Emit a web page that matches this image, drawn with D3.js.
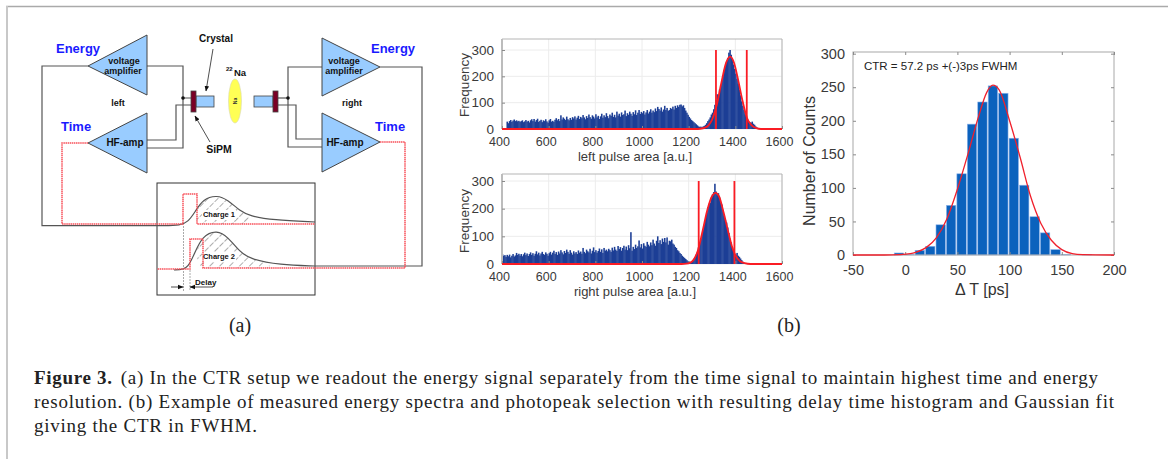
<!DOCTYPE html>
<html>
<head>
<meta charset="utf-8">
<script src="https://cdnjs.cloudflare.com/ajax/libs/d3/7.8.5/d3.min.js"></script>
<style>
html, body { margin: 0; padding: 0; background: #fff; overflow: hidden; }
text { font-family: "Liberation Sans", sans-serif; }
.axis path { display: none; }
.axis line { stroke: #8a8a8a; }
.axis text { font-size: 13px; fill: #3a3a3a; font-family: "Liberation Sans", sans-serif; }
</style>
</head>
<body>
<svg id="fig" width="1168" height="459"></svg>
<script>
// left spectrum, 5 unit bins starting at 415
var leftStart = 415;
var leftCounts = [
	0, 28, 22, 30, 34, 27, 32, 36, 30, 33, 29, 31, 27, 30, 33, 26, 29, 34, 28, 31,
	25, 33, 37, 30, 38, 28, 34, 39, 27, 31, 35, 26, 33, 30, 37, 29, 24, 33, 38, 28,
	31, 27, 35, 41, 33, 38, 30, 52, 36, 44, 39, 34, 47, 37, 33, 42, 35, 45, 40, 48,
	36, 43, 50, 38, 46, 41, 53, 44, 37, 49, 42, 55, 45, 39, 52, 47, 40, 56, 44, 50,
	38, 48, 58, 43, 52, 45, 60, 49, 41, 55, 50, 62, 46, 54, 44, 66, 51, 58, 47, 63,
	53, 56, 70, 49, 60, 54, 66, 58, 50, 64, 56, 71, 53, 62, 72, 57, 65, 60, 68, 55,
	63, 72, 59, 66, 75, 62, 70, 64, 78, 68, 84, 76, 70, 82, 66, 74, 88, 72, 80, 69,
	72, 80, 76, 85, 74, 88, 80, 90, 84, 92, 93, 86, 90, 80, 70, 62, 54, 46, 40, 34,
	30, 26, 22, 18, 14, 10, 8, 9, 7, 10, 12, 16, 22, 30, 36, 44, 55, 62, 75, 92,
	110, 132, 128, 150, 165, 185, 205, 225, 238, 255, 270, 290, 300, 282, 262, 245, 228, 210, 190, 172,
	150, 128, 105, 88, 72, 55, 42, 35, 28, 26, 24, 28, 20, 16, 10, 6, 4, 3, 2, 2, 2
];
var leftFitX = [400, 1230, 1250, 1270, 1285, 1300, 1320, 1340, 1360, 1378, 1395, 1410, 1430, 1450, 1470, 1490, 1510, 1600];
var leftFitY = [0, 0, 1, 5, 14, 35, 90, 175, 250, 275, 250, 195, 110, 42, 14, 3, 0, 0];
var leftCuts = [1317, 1449];

// right spectrum, 5 unit bins starting at 400
var rightStart = 400;
var rightCounts = [
	35, 30, 32, 26, 33, 28, 34, 24, 30, 36, 27, 31, 40, 33, 37, 30, 36, 28, 35, 41,
	32, 38, 29, 36, 42, 33, 39, 30, 37, 46, 35, 41, 31, 38, 44, 36, 33, 42, 37, 30,
	39, 44, 34, 41, 48, 36, 43, 33, 45, 38, 50, 42, 35, 47, 40, 52, 44, 37, 50, 41,
	34, 46, 38, 43, 36, 49, 41, 45, 37, 58, 44, 39, 52, 46, 42, 55, 38, 48, 60, 43,
	50, 41, 47, 56, 44, 53, 40, 58, 48, 52, 46, 55, 50, 44, 59, 49, 62, 52, 47, 65,
	54, 61, 48, 58, 66, 52, 63, 50, 68, 57, 115, 48, 62, 54, 70, 58, 64, 85, 60, 72,
	56, 75, 66, 62, 80, 70, 64, 78, 68, 88, 74, 66, 84, 100, 76, 86, 72, 92, 80, 94,
	78, 96, 70, 84, 82, 88, 74, 70, 62, 58, 50, 46, 40, 36, 30, 26, 22, 18, 14, 10,
	8, 7, 9, 12, 18, 24, 34, 44, 60, 78, 92, 108, 125, 142, 160, 185, 205, 218, 222, 240,
	252, 260, 290, 262, 250, 256, 240, 222, 215, 196, 175, 158, 150, 132, 112, 92, 78, 60, 46, 36,
	34, 40, 30, 26, 20, 14, 8, 5, 3, 2, 1
];
var rightFitX = [400, 1170, 1190, 1205, 1220, 1240, 1260, 1280, 1300, 1315, 1330, 1350, 1370, 1385, 1400, 1420, 1440, 1465, 1600];
var rightFitY = [0, 0, 1, 4, 14, 50, 120, 195, 245, 257, 245, 185, 115, 65, 32, 10, 3, 0, 0];
var rightCuts = [1243, 1396];

var spectrumXTicks = [400, 600, 800, 1000, 1200, 1400, 1600];
var spectrumYTicks = [0, 100, 200, 300];

// delay time histogram
var ctrCenters = [-6, 4, 14, 24, 34, 44, 54, 64, 74, 84, 94, 104, 114, 124, 134, 144, 154, 174];
var ctrCounts = [3, 1, 7, 13, 45, 74, 121, 195, 228, 252, 241, 174, 104, 57, 33, 8, 1, 1];
var ctrFitX = [-50, -20, -5, 5, 10, 20, 30, 40, 50, 60, 70, 78, 84, 90, 100, 110, 120, 130, 140, 150, 160, 170, 200];
var ctrFitY = [0, 0, 0.5, 2, 4, 11, 26, 54, 98, 150, 205, 242, 253, 246, 200, 146, 88, 47, 22, 8, 2, 0.5, 0];
var ctrXTicks = [-50, 0, 50, 100, 150, 200];
var ctrYTicks = [0, 50, 100, 150, 200, 250, 300];

var caption1 = "(a) In the CTR setup we readout the energy signal separately from the time signal to maintain highest time and energy";
var caption2 = "resolution. (b) Example of measured energy spectra and photopeak selection with resulting delay time histogram and Gaussian fit";
var caption3 = "giving the CTR in FWHM.";

var svg = d3.select("#fig");

// page frame
svg.append("line").attr("x1", 6).attr("x2", 1168).attr("y1", 6.5).attr("y2", 6.5).attr("stroke", "#aaa").attr("stroke-width", 1.5);
svg.append("line").attr("x1", 7).attr("x2", 7).attr("y1", 6).attr("y2", 459).attr("stroke", "#c8c8c8").attr("stroke-width", 2);

// ---- spectra ----
function spectrum(top, bottom, zeroY, y300, start, counts, fitX, fitY, cuts, xlabel, xlabelY, tickY, freqY) {
	var x = d3.scaleLinear().domain([400, 1600]).range([502, 782]);
	var y = d3.scaleLinear().domain([0, 300]).range([zeroY, y300]);
	var g = svg.append("g");

	// gridlines
	g.selectAll(".gx").data(spectrumXTicks).enter().append("line")
		.attr("x1", x).attr("x2", x).attr("y1", top).attr("y2", bottom)
		.attr("stroke", "#ececec");
	g.selectAll(".gy").data(spectrumYTicks).enter().append("line")
		.attr("x1", 502).attr("x2", 782).attr("y1", y).attr("y2", y)
		.attr("stroke", "#ececec");

	// bars, a touch wider than the bin so they read as a solid area
	var bw = x(405) - x(400);
	g.selectAll(".bar").data(counts).enter().append("rect")
		.attr("x", function(d, i) { return x(start + i * 5) - 0.2; })
		.attr("y", function(d) { return y(d); })
		.attr("width", bw + 0.4)
		.attr("height", function(d) { return zeroY - y(d); })
		.attr("fill", "#1d3f96");

	// box
	g.append("line").attr("x1", 502).attr("x2", 782).attr("y1", top).attr("y2", top).attr("stroke", "#b5b5b5");
	g.append("line").attr("x1", 782).attr("x2", 782).attr("y1", top).attr("y2", bottom).attr("stroke", "#b5b5b5");
	g.append("line").attr("x1", 502).attr("x2", 502).attr("y1", top).attr("y2", bottom).attr("stroke", "#bcbcbc").attr("stroke-width", 2);

	var xAxis = d3.axisBottom(x).tickValues(spectrumXTicks).tickSize(-3).tickPadding(6).tickFormat(d3.format("d"));
	var yAxis = d3.axisLeft(y).tickValues(spectrumYTicks).tickSize(-3).tickPadding(8);
	var ax = g.append("g").attr("class", "axis").attr("transform", "translate(0," + bottom + ")").call(xAxis);
	ax.selectAll("text").attr("y", null).attr("dy", null).attr("dx", -3)
		.attr("transform", "translate(0," + (tickY - bottom) + ")").style("font-size", "12.5px");
	g.append("g").attr("class", "axis").attr("transform", "translate(502,0)").call(yAxis)
		.selectAll("text").style("font-size", "13.5px");

	// fit and cuts
	var line = d3.line().x(function(d) { return x(d[0]); }).y(function(d) { return y(d[1]); }).curve(d3.curveMonotoneX);
	g.append("path").attr("d", line(d3.zip(fitX, fitY))).attr("fill", "none").attr("stroke", "#fa1c24").attr("stroke-width", 1.8);
	g.selectAll(".cut").data(cuts).enter().append("line")
		.attr("x1", x).attr("x2", x).attr("y1", zeroY).attr("y2", y(300))
		.attr("stroke", "#fa1c24").attr("stroke-width", 1.8);

	g.append("text").attr("x", 635).attr("y", xlabelY).attr("text-anchor", "middle")
		.style("font-size", "13px").attr("fill", "#3a3a3a").text(xlabel);
	g.append("text").attr("transform", "translate(469," + freqY + ") rotate(-90)")
		.attr("text-anchor", "middle").style("font-size", "13.5px").attr("fill", "#3a3a3a").text("Frequency");
}
spectrum(39, 129, 129, 50, leftStart, leftCounts, leftFitX, leftFitY, leftCuts, "left pulse area [a.u.]", 161, 146, 85);
spectrum(174, 264, 264, 181, rightStart, rightCounts, rightFitX, rightFitY, rightCuts, "right pulse area [a.u.]", 296, 281, 221);

// ---- CTR histogram ----
var ctrX = d3.scaleLinear().domain([-50, 200]).range([853, 1114]);
var ctrY = d3.scaleLinear().domain([0, 302.5]).range([255, 52]);
var ctr = svg.append("g");
ctr.selectAll(".bar").data(ctrCounts).enter().append("rect")
	.attr("x", function(d, i) { return ctrX(ctrCenters[i] - 4.5); })
	.attr("y", function(d) { return ctrY(d); })
	.attr("width", ctrX(9) - ctrX(0))
	.attr("height", function(d) { return 255 - ctrY(d); })
	.attr("fill", "#0b62bd")
	.attr("stroke", "#8fb4ea").attr("stroke-width", 0.6);
ctr.append("rect").attr("x", 853).attr("y", 52).attr("width", 261).attr("height", 203)
	.attr("fill", "none").attr("stroke", "#a8a8a8");
// plain hyphen on the negative tick, like the original
var ctrXAxis = d3.axisBottom(ctrX).tickValues(ctrXTicks).tickSize(-3).tickPadding(10).tickFormat(function(d) { return String(d); });
var ctrYAxis = d3.axisLeft(ctrY).tickValues(ctrYTicks).tickSize(-3).tickPadding(8);
ctr.append("g").attr("class", "axis").attr("transform", "translate(0,255)").call(ctrXAxis)
	.selectAll("text").style("font-size", "14.5px");
ctr.append("g").attr("class", "axis").attr("transform", "translate(853,0)").call(ctrYAxis)
	.selectAll("text").style("font-size", "14.5px");
// ticks on the top and right too
ctr.append("g").attr("class", "axis").attr("transform", "translate(0,52)")
	.call(d3.axisTop(ctrX).tickValues(ctrXTicks).tickSize(-3).tickFormat(""));
ctr.append("g").attr("class", "axis").attr("transform", "translate(1114,0)")
	.call(d3.axisRight(ctrY).tickValues(ctrYTicks).tickSize(-3).tickFormat(""));
var ctrLine = d3.line().x(function(d) { return ctrX(d[0]); }).y(function(d) { return ctrY(d[1]); }).curve(d3.curveMonotoneX);
ctr.append("path").attr("d", ctrLine(d3.zip(ctrFitX, ctrFitY))).attr("fill", "none").attr("stroke", "#f0202c").attr("stroke-width", 1.3);
ctr.append("text").attr("x", 864).attr("y", 70).style("font-size", "11.5px").attr("fill", "#222").text("CTR = 57.2 ps +(-)3ps FWHM");
ctr.append("text").attr("transform", "translate(815,161) rotate(-90)").attr("text-anchor", "middle")
	.style("font-size", "16px").attr("fill", "#333").text("Number of Counts");
ctr.append("text").attr("x", 982).attr("y", 295).attr("text-anchor", "middle")
	.style("font-size", "16px").attr("fill", "#333").text("\u0394 T [ps]");

// ---- setup schematic ----
var dia = svg.append("g");
var defs = svg.append("defs");
var wire = "#555", blue = "#99ccff", red = "#f8505a";
defs.append("marker").attr("id", "arrow").attr("viewBox", "0 0 10 10").attr("refX", 9).attr("refY", 5)
	.attr("markerWidth", 7).attr("markerHeight", 7).attr("orient", "auto-start-reverse")
	.append("path").attr("d", "M0,1 L10,5 L0,9 Z").attr("fill", "#111");
var hatch = defs.append("pattern").attr("id", "hatch").attr("patternUnits", "userSpaceOnUse")
	.attr("width", 7).attr("height", 7).attr("patternTransform", "rotate(45)");
hatch.append("line").attr("x1", 0).attr("x2", 0).attr("y1", 0).attr("y2", 7).attr("stroke", "#777").attr("stroke-width", 1.2).attr("stroke-dasharray", "5 1.5");

var pts = d3.line();
var smooth = d3.line().curve(d3.curveBasis);
function poly(p, color, w, dash) {
	return dia.append("path").attr("d", pts(p)).attr("fill", "none").attr("stroke", color)
		.attr("stroke-width", w).attr("stroke-dasharray", dash || null);
}
function label(x, y, s, size, anchor, color) {
	return dia.append("text").attr("x", x).attr("y", y).attr("text-anchor", anchor || "middle")
		.style("font-size", size + "px").style("font-weight", "bold").attr("fill", color || "#111").text(s);
}

// pulse box
dia.append("rect").attr("x", 157).attr("y", 183).attr("width", 158).attr("height", 112)
	.attr("fill", "#fff").attr("stroke", "#333").attr("stroke-width", 1);

// hatched charge areas
var pulse1 = [[140, 225.7], [165, 225.7], [180, 225.5], [188, 222], [195, 212], [203, 199], [217, 195], [228, 200], [240, 211], [250, 216], [273, 220], [315, 222]];
var pulse2 = [[174, 270], [183, 269.5], [188, 267], [194, 255], [202, 236], [217, 230], [228, 237], [240, 252], [250, 259], [280, 265], [315, 266]];
var charge1 = pulse1.filter(function(d) { return d[0] >= 195 && d[0] <= 250; });
var charge2 = pulse2.filter(function(d) { return d[0] >= 194 && d[0] <= 265; });
dia.append("path").attr("d", smooth([[197, 224]].concat(charge1, [[250, 224]])) + "Z").attr("fill", "url(#hatch)");
dia.append("path").attr("d", smooth([[202, 268]].concat(charge2, [[270, 264], [270, 268]])) + "Z").attr("fill", "url(#hatch)");
dia.append("rect").attr("x", 202).attr("y", 210).attr("width", 34).attr("height", 10).attr("fill", "#fff");
dia.append("rect").attr("x", 202).attr("y", 252).attr("width", 34).attr("height", 10).attr("fill", "#fff");

// delay guide lines
poly([[183.5, 226], [183.5, 291]], "#aaa", 1, "2 1");
poly([[190, 270], [190, 291]], "#aaa", 1, "2 1");

// energy wires
poly([[88, 66], [42, 66], [42, 225.7], [140, 225.7]], wire, 1.2);
poly([[315, 266], [422, 266], [422, 67], [380, 67]], wire, 1.2);
dia.append("path").attr("d", smooth(pulse1)).attr("fill", "none").attr("stroke", wire).attr("stroke-width", 1.2);
dia.append("path").attr("d", smooth(pulse2)).attr("fill", "none").attr("stroke", wire).attr("stroke-width", 1.2);

// time signals
poly([[88, 143], [62, 143], [62, 224], [183, 224], [183, 194], [197, 194], [197, 224], [315, 224]], red, 1.5, "1.5 0.6");
poly([[380, 142], [405, 142], [405, 268], [203, 268], [203, 239], [190, 239], [190, 269], [157, 269]], red, 1.5, "1.5 0.6");

// inner wiring
poly([[147, 66], [183, 66], [183, 98], [191, 98]], wire, 1.2);
poly([[147, 148], [183, 148], [183, 98]], wire, 1.2);
poly([[147, 140], [176, 140], [176, 105], [191, 105]], wire, 1.2);
poly([[322, 67], [288, 67], [288, 147], [322, 147]], wire, 1.2);
poly([[278, 98], [288, 98]], wire, 1.2);
poly([[278, 105], [296, 105], [296, 139], [322, 139]], wire, 1.2);

// amplifiers
function amp(p) {
	dia.append("path").attr("d", pts(p) + "Z").attr("fill", blue).attr("stroke", "#444").attr("stroke-width", 1);
}
amp([[88, 66], [147, 35], [147, 95]]);
amp([[88, 143], [147, 113], [147, 173]]);
amp([[380, 67], [322, 38], [322, 96]]);
amp([[380, 142], [322, 113], [322, 172]]);

// crystals and SiPMs
function box(x, y, w, h, fill) {
	dia.append("rect").attr("x", x).attr("y", y).attr("width", w).attr("height", h).attr("fill", fill).attr("stroke", "#444").attr("stroke-width", 0.8);
}
box(196, 96, 18, 11, blue);
box(254, 96, 19, 11, blue);
box(191, 91, 5, 21, "#7a0026");
box(273, 91, 5, 21, "#7a0026");
dia.append("circle").attr("cx", 183).attr("cy", 98).attr("r", 1.8).attr("fill", "#111");
dia.append("circle").attr("cx", 288).attr("cy", 98).attr("r", 1.8).attr("fill", "#111");

// source
dia.append("ellipse").attr("cx", 235).attr("cy", 101).attr("rx", 6.5).attr("ry", 22).attr("fill", "#ffff55").attr("stroke", "#d8d8b0").attr("stroke-width", 0.6);
dia.append("text").attr("transform", "translate(237,101) rotate(-90)").attr("text-anchor", "middle")
	.style("font-size", "5px").style("font-weight", "bold").attr("fill", "#333").text("Na");
label(226, 71, "22", 6, "start");
label(234, 76, "Na", 9.5, "start");

// pointers
poly([[213, 49], [206, 91]], "#222", 0.8).attr("marker-end", "url(#arrow)");
poly([[210, 142], [195, 116]], "#222", 0.8).attr("marker-end", "url(#arrow)");
poly([[171, 287], [183, 287]], "#222", 0.8).attr("marker-end", "url(#arrow)");
poly([[213, 287], [190, 287]], "#222", 0.8).attr("marker-end", "url(#arrow)");

// labels
label(56, 53, "Energy", 13, "start", "#1a1aff");
label(371, 53, "Energy", 13, "start", "#1a1aff");
label(61, 131, "Time", 13, "start", "#1a1aff");
label(375, 131, "Time", 13, "start", "#1a1aff");
label(124, 64, "voltage", 9);
label(123, 74, "amplifier", 9);
label(344, 64, "voltage", 9);
label(344, 74, "amplifier", 9);
label(125, 146, "HF-amp", 10);
label(345, 146, "HF-amp", 10);
label(118, 106, "left", 9);
label(352, 106, "right", 9);
label(216, 42, "Crystal", 10);
label(219, 153, "SiPM", 10.5);
label(219, 217, "Charge 1", 7.5);
label(219, 259, "Charge 2", 7.5);
label(195, 285, "Delay", 8, "start");

// ---- panel letters and caption ----
var serif = "'Liberation Serif', serif";
svg.append("text").attr("x", 240).attr("y", 332).attr("text-anchor", "middle").style("font-family", serif).style("font-size", "20px").attr("fill", "#222").text("(a)");
svg.append("text").attr("x", 789).attr("y", 332).attr("text-anchor", "middle").style("font-family", serif).style("font-size", "20px").attr("fill", "#222").text("(b)");

var cap = svg.append("g").style("font-family", serif).style("font-size", "19px").attr("fill", "#222");
var line1 = cap.append("text").attr("x", 34).attr("y", 384).style("font-family", serif).attr("textLength", 1064).attr("lengthAdjust", "spacing");
line1.append("tspan").style("font-weight", "bold").style("font-family", serif).text("Figure 3.");
line1.append("tspan").attr("dx", 8).style("font-family", serif).text(caption1);
cap.append("text").attr("x", 34).attr("y", 408).style("font-family", serif).attr("textLength", 1080).attr("lengthAdjust", "spacing").text(caption2);
cap.append("text").attr("x", 34).attr("y", 432).style("font-family", serif).attr("textLength", 223).attr("lengthAdjust", "spacing").text(caption3);
</script>
</body>
</html>
